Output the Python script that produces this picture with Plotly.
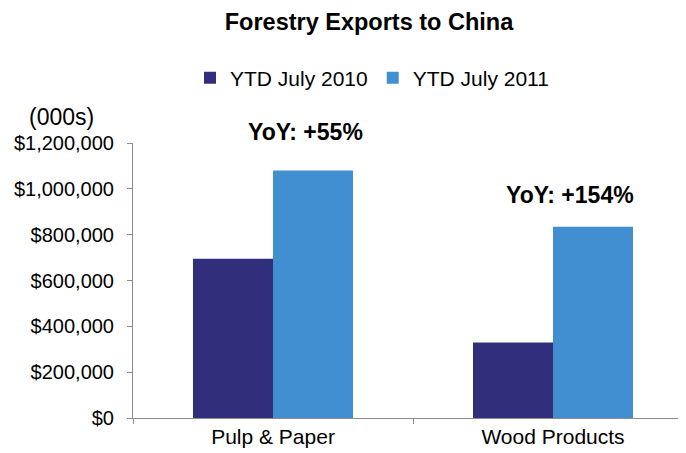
import plotly.graph_objects as go

categories = ["Pulp & Paper", "Wood Products"]
ytd_2010 = [695000, 330000]
ytd_2011 = [1080000, 835000]
series_names = ["YTD July 2010", "YTD July 2011"]
yoy_labels = ["YoY: +55%", "YoY: +154%"]
y_ticks = [0, 200000, 400000, 600000, 800000, 1000000, 1200000]
y_tick_text = ["${:,}".format(v) for v in y_ticks]

FONT = "Liberation Sans, Arial, sans-serif"
OFF = 8  # page body margin in the browser
W, H = 686 - OFF, 453 - OFF
L, T = 133 - OFF, 143 - OFF
PLOT_BOTTOM = 418 - OFF
B = H - PLOT_BOTTOM
PW, PH = W - L, PLOT_BOTTOM - T

fig = go.Figure()
fig.add_trace(go.Bar(x=categories, y=ytd_2010, name=series_names[0],
                     marker=dict(color="#312F7C", line=dict(width=0))))
fig.add_trace(go.Bar(x=categories, y=ytd_2011, name=series_names[1],
                     marker=dict(color="#418ED1", line=dict(width=0))))

# YoY annotations: x in data coords, y in paper coords (pixel centres from reference)
ann_pos = [(0.116, 131.7), (1.059, 195.0)]
for (ax, py), txt in zip(ann_pos, yoy_labels):
    fig.add_annotation(x=ax, y=(PLOT_BOTTOM - (py - OFF)) / PH, xref="x", yref="paper",
                       text="<b>%s</b>" % txt,
                       showarrow=False, font=dict(size=23, color="#000", family=FONT),
                       xanchor="center", yanchor="middle")

fig.add_annotation(x=(61 - OFF - L) / PW, y=(PLOT_BOTTOM - (117 - OFF)) / PH,
                   xref="paper", yref="paper", text="(000s)",
                   showarrow=False, font=dict(size=23, color="#000", family=FONT),
                   xanchor="center", yanchor="middle")

fig.update_layout(
    width=W, height=H,
    margin=dict(l=L, r=0, t=T, b=B),
    paper_bgcolor="white", plot_bgcolor="white",
    font=dict(family=FONT, color="#000"),
    title=dict(text="<b>Forestry Exports to China</b>", x=(369 - OFF) / W, xref="container",
               y=1 - (22 - OFF) / H, yref="container", xanchor="center", yanchor="middle",
               font=dict(size=23.5, family=FONT, color="#000")),
    barmode="group", bargap=0.4286, bargroupgap=0,
    legend=dict(orientation="h", x=(372 - OFF) / W, xref="container",
                y=1 - (78 - OFF) / H, yref="container",
                xanchor="center", yanchor="middle", font=dict(size=21, family=FONT),
                itemwidth=30, tracegroupgap=0),
    showlegend=True,
)
fig.update_xaxes(range=[-0.5, 1.475], showline=True, linecolor="#8C8C8C", linewidth=1,
                 ticks="outside", tickson="boundaries", ticklen=5, tickcolor="#8C8C8C",
                 showgrid=False, automargin=False,
                 tickfont=dict(size=21, family=FONT, color="#000"))
fig.update_yaxes(range=[0, 1200000], tickvals=y_ticks, ticktext=y_tick_text,
                 showline=True, linecolor="#8C8C8C", linewidth=1,
                 ticks="outside", ticklen=5, tickcolor="#8C8C8C", showgrid=False,
                 zeroline=False, automargin=False, ticklabelstandoff=9,
                 tickfont=dict(size=20, family=FONT, color="#000"))

fig.write_html("out.html")
